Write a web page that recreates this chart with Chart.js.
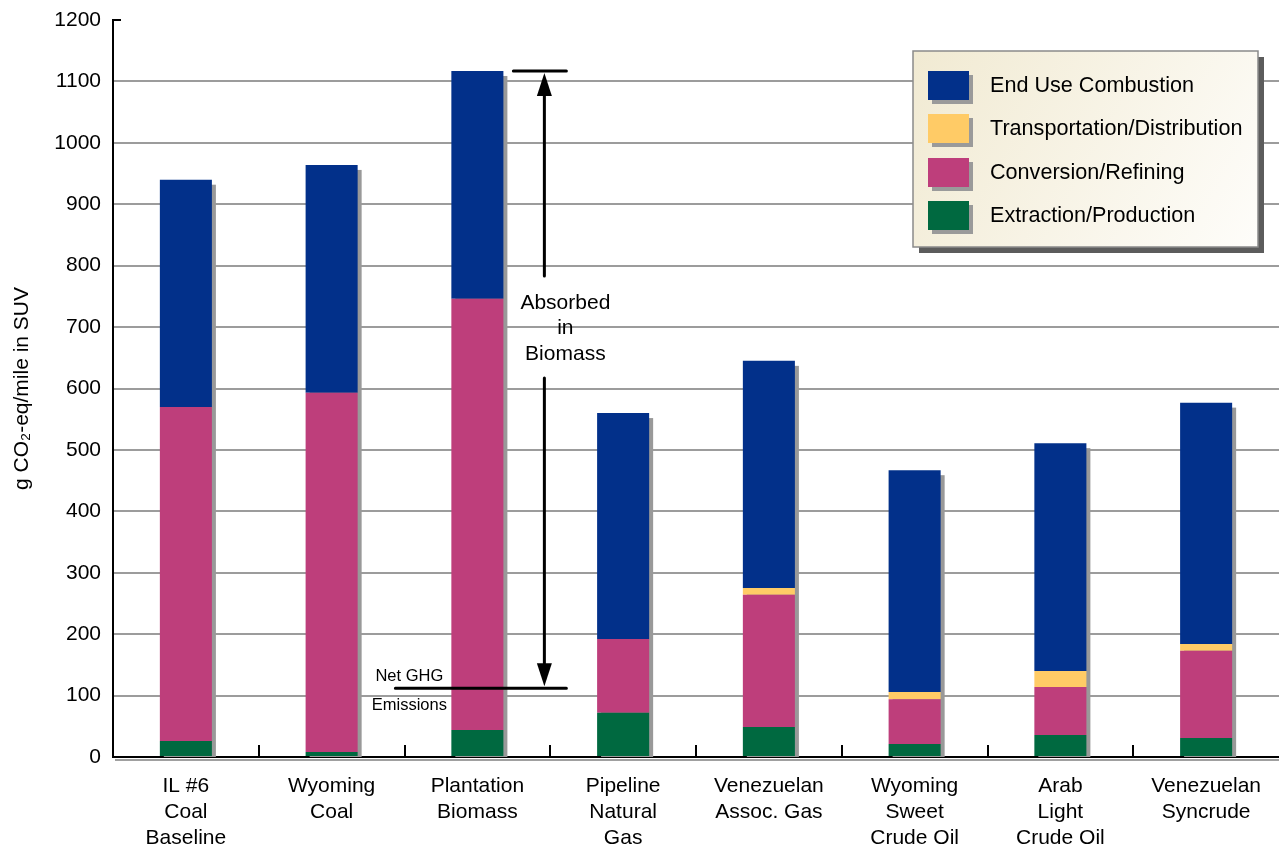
<!DOCTYPE html>
<html>
<head>
<meta charset="utf-8">
<title>Well-to-wheel GHG emissions by fuel pathway</title>
<script src="https://cdn.jsdelivr.net/npm/chart.js@4/dist/chart.umd.min.js"></script>
<style>
  html, body { margin: 0; padding: 0; background: #ffffff; }
  #wrap { width: 1279px; height: 850px; position: relative; }
</style>
</head>
<body>
<div id="wrap"><canvas id="chart"></canvas></div>
<script>
// Fuel pathways (x categories), multi-line labels
const categories = [
  ["IL #6", "Coal", "Baseline"],
  ["Wyoming", "Coal"],
  ["Plantation", "Biomass"],
  ["Pipeline", "Natural", "Gas"],
  ["Venezuelan", "Assoc. Gas"],
  ["Wyoming", "Sweet", "Crude Oil"],
  ["Arab", "Light", "Crude Oil"],
  ["Venezuelan", "Syncrude"]
];

// Life-cycle stage contributions, g CO2-eq/mile
const extraction = [26, 8, 44, 72, 49, 21, 36, 31];
const conversion = [544, 585, 702, 120, 215, 73, 78, 142];
const transport  = [0, 0, 0, 0, 11, 12, 26, 11];
const endUse     = [370, 371, 371, 368, 370, 361, 371, 393];

const seriesNames  = ["Extraction/Production", "Conversion/Refining", "Transportation/Distribution", "End Use Combustion"];
const seriesColors = ["#006940", "#BE3E7B", "#FFCB66", "#02308A"];

// Y axis ticks
const yTicks = [0, 100, 200, 300, 400, 500, 600, 700, 800, 900, 1000, 1100, 1200];
const yMax = 1200;

// Biomass uptake annotation: gross total down to net emissions
const biomassIndex = 2;
const netGHG = 112;

const FONT = "'Liberation Sans', Arial, Helvetica, sans-serif";

function totalAt(i) {
  return extraction[i] + conversion[i] + transport[i] + endUse[i];
}

// Grey drop shadow behind each stacked column
const barShadow = {
  id: 'barShadow',
  beforeDatasetsDraw(chart) {
    const ctx = chart.ctx, x = chart.scales.x, y = chart.scales.y;
    const meta = chart.getDatasetMeta(0);
    ctx.save();
    ctx.fillStyle = '#999999';
    categories.forEach((c, i) => {
      const w = meta.data[i].width;
      const cx = x.getPixelForValue(i);
      const top = y.getPixelForValue(totalAt(i));
      const bottom = y.getPixelForValue(0);
      ctx.fillRect(cx - w / 2 + 4, top + 5, w, bottom - top - 5);
    });
    ctx.restore();
  }
};

// Category tick marks inside the plot, top stub of the y axis, and shadow beneath the x axis
const axisDecor = {
  id: 'axisDecor',
  afterDatasetsDraw(chart) {
    const ctx = chart.ctx, a = chart.chartArea;
    const n = categories.length;
    const step = (a.right - a.left) / n;
    ctx.save();
    ctx.strokeStyle = '#a0a0a0';
    ctx.lineWidth = 2;
    ctx.beginPath();
    ctx.moveTo(a.left + 2, a.bottom + 3);
    ctx.lineTo(a.right, a.bottom + 3);
    ctx.stroke();
    ctx.strokeStyle = '#000000';
    ctx.lineWidth = 2;
    ctx.beginPath();
    for (let k = 1; k < n; k++) {
      const px = Math.round(a.left + k * step);
      ctx.moveTo(px, a.bottom - 12);
      ctx.lineTo(px, a.bottom);
    }
    ctx.moveTo(a.left, a.top);
    ctx.lineTo(a.left + 8, a.top);
    ctx.stroke();
    ctx.restore();
  }
};

// "Absorbed in Biomass" dimension arrow and "Net GHG Emissions" marker
const biomassNote = {
  id: 'biomassNote',
  afterDatasetsDraw(chart) {
    const ctx = chart.ctx, x = chart.scales.x, y = chart.scales.y;
    const cx = x.getPixelForValue(biomassIndex);
    const yTop = y.getPixelForValue(totalAt(biomassIndex));
    const yNet = y.getPixelForValue(netGHG);
    const ax = cx + 67;
    ctx.save();
    ctx.strokeStyle = '#000';
    ctx.fillStyle = '#000';
    ctx.lineWidth = 3;
    ctx.lineCap = 'round';
    // top bar and net line
    ctx.beginPath();
    ctx.moveTo(cx + 36, yTop); ctx.lineTo(cx + 89, yTop);
    ctx.moveTo(cx - 82, yNet); ctx.lineTo(cx + 89, yNet);
    ctx.stroke();
    // vertical shaft with a gap for the label
    const gapTop = 276, gapBottom = 378;
    ctx.beginPath();
    ctx.moveTo(ax, yTop + 20); ctx.lineTo(ax, gapTop);
    ctx.moveTo(ax, gapBottom); ctx.lineTo(ax, yNet - 20);
    ctx.stroke();
    // arrowheads
    ctx.beginPath();
    ctx.moveTo(ax, yTop + 2); ctx.lineTo(ax - 7.5, yTop + 25); ctx.lineTo(ax + 7.5, yTop + 25); ctx.closePath();
    ctx.fill();
    ctx.beginPath();
    ctx.moveTo(ax, yNet - 2); ctx.lineTo(ax - 7.5, yNet - 25); ctx.lineTo(ax + 7.5, yNet - 25); ctx.closePath();
    ctx.fill();
    // labels
    ctx.textAlign = 'center';
    ctx.textBaseline = 'middle';
    ctx.font = '21px ' + FONT;
    ctx.fillText('Absorbed', ax + 21, 303);
    ctx.fillText('in', ax + 21, 328);
    ctx.fillText('Biomass', ax + 21, 354);
    ctx.font = '16.5px ' + FONT;
    ctx.fillText('Net GHG', cx - 68, yNet - 12);
    ctx.fillText('Emissions', cx - 68, yNet + 17);
    ctx.restore();
  }
};

// Boxed legend with shaded swatches
const boxLegend = {
  id: 'boxLegend',
  afterDraw(chart) {
    const ctx = chart.ctx;
    const bx = 913, by = 51, bw = 345, bh = 196;
    ctx.save();
    ctx.fillStyle = '#5c5c5c';
    ctx.fillRect(bx + 6, by + 6, bw, bh);
    const g = ctx.createLinearGradient(bx, by, bx + bw, by + bh);
    g.addColorStop(0, '#f1ead2');
    g.addColorStop(1, '#fefdfa');
    ctx.fillStyle = g;
    ctx.fillRect(bx, by, bw, bh);
    ctx.strokeStyle = '#8a8a8a';
    ctx.lineWidth = 1.5;
    ctx.strokeRect(bx, by, bw, bh);
    const order = [3, 2, 1, 0];
    const rowY = [71, 114, 158, 201];
    ctx.font = '21.6px ' + FONT;
    ctx.textBaseline = 'middle';
    ctx.textAlign = 'left';
    order.forEach((s, r) => {
      ctx.fillStyle = '#9a9a9a';
      ctx.fillRect(bx + 15 + 4, rowY[r] + 4, 41, 29);
      ctx.fillStyle = seriesColors[s];
      ctx.fillRect(bx + 15, rowY[r], 41, 29);
      ctx.fillStyle = '#000';
      ctx.fillText(seriesNames[s], bx + 77, rowY[r] + 15);
    });
    ctx.restore();
  }
};

const datasets = [extraction, conversion, transport, endUse].map((vals, k) => ({
  label: seriesNames[k],
  data: vals,
  backgroundColor: seriesColors[k],
  borderWidth: 0,
  categoryPercentage: 1.0,
  barPercentage: 0.357
}));

new Chart(document.getElementById('chart'), {
  type: 'bar',
  data: { labels: categories, datasets },
  plugins: [barShadow, axisDecor, biomassNote, boxLegend],
  options: {
    responsive: true,
    maintainAspectRatio: false,
    animation: false,
    events: [],
    layout: { padding: { top: 20, right: 0, left: 0, bottom: 0 } },
    plugins: {
      legend: { display: false },
      tooltip: { enabled: false }
    },
    scales: {
      x: {
        stacked: true,
        grid: { display: false },
        border: { display: true, color: '#000', width: 2 },
        ticks: {
          color: '#000',
          font: { family: FONT, size: 21, lineHeight: 1.24 },
          padding: 8,
          maxRotation: 0,
          autoSkip: false
        },
        afterFit(scale) { scale.height = 93; }
      },
      y: {
        stacked: true,
        min: 0,
        max: yMax,
        afterBuildTicks(scale) { scale.ticks = yTicks.map(v => ({ value: v })); },
        grid: {
          color: c => (c.tick && c.tick.value === yMax) ? 'rgba(0,0,0,0)' : '#9c9c9c',
          lineWidth: 2,
          drawTicks: false
        },
        border: { display: true, color: '#000', width: 2 },
        ticks: {
          color: '#000',
          font: { family: FONT, size: 21 },
          padding: 12,
          callback: v => String(v)
        },
        title: {
          display: true,
          text: 'g CO₂-eq/mile in SUV',
          color: '#000',
          font: { family: FONT, size: 21 },
          padding: { top: 10, bottom: 4 }
        },
        afterFit(scale) {
          scale.width = 113;
          scale.paddingTop = 0;
          scale.paddingBottom = 0;
        }
      }
    }
  }
});
</script>
</body>
</html>
